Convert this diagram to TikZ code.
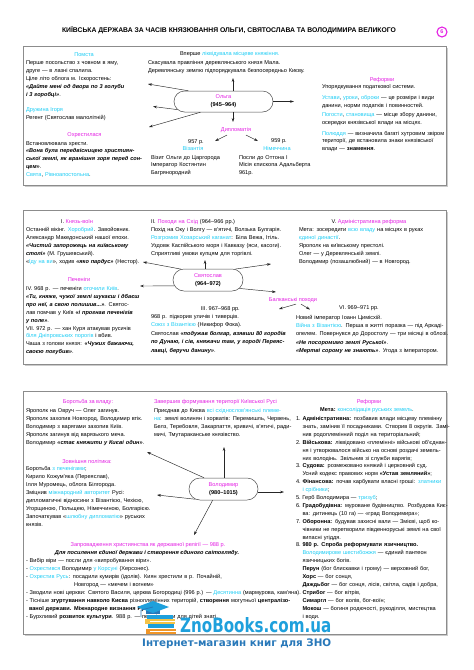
\documentclass[tikz,border=0pt]{standalone}
\usepackage{fontspec}
\usepackage{graphicx}
\setmainfont{Liberation Sans}
\newfontfamily\logofont{DejaVu Sans}
\usetikzlibrary{arrows.meta,shapes.misc}
\definecolor{mg}{RGB}{228,32,228}
\definecolor{cy}{RGB}{30,205,245}
\definecolor{zb}{RGB}{30,160,220}
\definecolor{zbd}{RGB}{40,120,185}
\definecolor{bkor}{RGB}{240,150,40}
\definecolor{bkye}{RGB}{245,195,70}
\newcommand{\mgx}[1]{\textcolor{mg}{#1}}
\newcommand{\cyx}[1]{\textcolor{cy}{#1}}
\newcommand{\bix}[1]{\textbf{\textit{#1}}}
\newcommand{\jl}[2]{\makebox[#1][s]{#2}}
\newlength{\myind}\setlength{\myind}{6.5pt}
\newlength{\reflw}\setlength{\reflw}{143pt}
\newcommand{\Nj}[2]{\makebox[\myind][l]{#1}\makebox[\dimexpr\reflw-\myind\relax][s]{#2}}
\newcommand{\Nl}[2]{\makebox[\myind][l]{#1}#2}
\newcommand{\Lj}[1]{\hspace*{\myind}\makebox[\dimexpr\reflw-\myind\relax][s]{#1}}
\newcommand{\Ll}[1]{\hspace*{\myind}#1}
\newcommand{\fsz}{\fontsize{5.6}{8}\selectfont}
\begin{document}
\begin{tikzpicture}[x=1pt,y=-1pt,
 arr/.style={-{Stealth[length=4pt,width=2.6pt]}, line width=0.45pt, draw=black!85},
 tx/.style={anchor=base west, inner sep=0pt, outer sep=0pt, font=\fsz, align=left},
 blk/.style={tx, text width=320pt},
 txc/.style={anchor=base, inner sep=0pt, outer sep=0pt, font=\fsz},
 hub/.style={rounded rectangle, draw=black!70, line width=0.5pt, inner sep=1pt, font=\fsz, align=center, fill=white},
 frame/.style={draw=black!45, line width=0.8pt},
 shadow/.style={draw=black!20, line width=1pt}]
\useasboundingbox (0,0) rectangle (474,670);
\fill[white] (0,0) rectangle (474,670);

% ---------- title ----------
\node[anchor=base, inner sep=0pt, font=\fontsize{6.8}{8}\selectfont\bfseries] (title) at (229,32) {КИЇВСЬКА ДЕРЖАВА ЗА ЧАСІВ КНЯЗЮВАННЯ ОЛЬГИ, СВЯТОСЛАВА ТА ВОЛОДИМИРА ВЕЛИКОГО};
\node[circle, draw=mg, line width=1.1pt, minimum size=10pt, inner sep=0pt, font=\fontsize{5.5}{6}\selectfont\bfseries, text=mg] (num) at (442,32) {6};

% ---------- frames ----------
\draw[shadow] (24.5,186.5) -- (447.5,186.5) -- (447.5,47.5);
\draw[frame] (23,46) rectangle (446,185);
\draw[shadow] (24.5,365.5) -- (447.5,365.5) -- (447.5,211.5);
\draw[frame] (23,210) rectangle (446,364);
\draw[shadow] (24.5,635.5) -- (447.5,635.5) -- (447.5,392.5);
\draw[frame] (23,391) rectangle (446,634);

% ---------- section 1: Olga ----------
\node[txc] (pomsta) at (84,56) {\cyx{Помста}};
\node[blk, font=\fontsize{5.6}{8.2}\selectfont] (p1) at (26,64) {Перше посольство з човном в яму,\\друге — в лазні спалила.\\Ціле літо облога м. Іскоростень:\\\bix{«Дайте мені од двора по 3 голуби}\\\bix{і 3 горобці»}.};
\node[tx] (igor) at (26,111) {\cyx{Дружина Ігоря}};
\node[tx] (regent) at (26,119) {Регент (Святослав малолітній)};
\node[txc] (ohr) at (84.5,136) {\mgx{Охрестилася}};
\node[blk, font=\fontsize{5.6}{7.75}\selectfont] (p2) at (26,145) {Встановлювала хрести.\\\jl{117pt}{\bix{«Вона була передвісницею християн-}}\\\jl{117pt}{\bix{ської землі, як вранішня зоря перед сон-}}\\\bix{цем»}.\\\cyx{Свята}, \cyx{Рівноапостольна}.};

\node[tx] (vpershe) at (180,55.5) {Вперше \cyx{ліквідувала місцеве княжіння.}};
\node[blk, font=\fontsize{5.6}{8.6}\selectfont] (mal) at (148,64) {Скасувала правління деревлянського князя Мала.\\Деревлянську землю підпорядкувала безпосередньо Києву.};

\node[hub, minimum width=101pt, minimum height=21pt] (olga) at (223.5,101.5) {\mgx{Ольга}\\\textbf{(945–964)}};

\node[txc] (dipl) at (236,131) {\mgx{Дипломатія}};
\node[txc] (y957) at (196,143) {957 р.};
\node[txc] (viz) at (193,150.5) {\cyx{Візантія}};
\node[blk, font=\fontsize{5.6}{7.6}\selectfont] (vizt) at (151,159) {Візит Ольги до Царгорода\\Імператор Костянтин\\Багрянородний};
\node[txc] (y959) at (279,142) {959 р.};
\node[txc] (nim) at (277,150.5) {\cyx{Німеччина}};
\node[blk, font=\fontsize{5.6}{7.6}\selectfont] (nimt) at (239,159) {Посли до Оттона І\\Місія єпископа Адальберта\\961р.};

\node[txc] (ref1) at (382,81) {\mgx{Реформи}};
\node[tx] (r1a) at (322,88.5) {Упорядкування податкової системи.};
\node[blk] (r1b) at (322,99) {\jl{120pt}{\cyx{Устави}, \cyx{уроки}, \cyx{оброки} — це розміри і види}\\данини, норми податків і повинностей.};
\node[blk] (r1c) at (322,116.5) {\jl{120pt}{\cyx{Погости}, \cyx{становища} — місце збору данини,}\\осередки князівської влади на місцях.};
\node[blk, font=\fontsize{5.6}{7.6}\selectfont] (r1d) at (322,135) {\jl{120pt}{\cyx{Полюддя} — визначила багаті хутровим звіром}\\\jl{120pt}{території, де встановила знаки князівської}\\влади — \textbf{знамення}.};

\coordinate (oU) at (233,78);
\coordinate (oUL) at (148,84);
\coordinate (oL) at (153,106.5);
\coordinate (oDL) at (149,127);
\coordinate (oD) at (233,122);
\coordinate (oR) at (294,101.5);
\draw[arr] (olga.north -| oU) -- (oU);
\draw[arr] (olga.163) -- (oUL);
\draw[arr] (olga.190) -- (oL);
\draw[arr] (olga.205) -- (oDL);
\draw[arr] (olga.south -| oD) -- (oD);
\draw[arr] (olga.east) -- (oR);
\coordinate (dL) at (215,141);
\coordinate (dR) at (258,141);
\draw[arr] ([xshift=-9pt,yshift=-3pt]dipl.south) -- (dL);
\draw[arr] ([xshift=10pt,yshift=-3pt]dipl.south) -- (dR);

% ---------- section 2: Sviatoslav ----------
\node[txc] (kv) at (77,223) {I. \mgx{Князь-воїн}};
\node[blk, font=\fontsize{5.6}{8.1}\selectfont] (kvt) at (26,231) {Останній вікінг. \cyx{Хоробрий}. Завойовник.\\Александр Македонський нашої епохи.\\\jl{117pt}{\bix{«Чистий запорожець на київському}}\\\bix{столі»} (М. Грушевський).\\«\cyx{Іду на ви}», ходив \bix{«яко пардус»} (Нестор).};
\node[txc] (pech) at (79,281.5) {\mgx{Печеніги}};
\node[blk, font=\fontsize{5.6}{7.9}\selectfont] (pecht) at (26,290.5) {IV. 968 р. — печеніги \cyx{оточили Київ}.\\\jl{117pt}{\bix{«Ти, княже, чужої землі шукаєш і дбаєш}}\\\jl{117pt}{\bix{про неї, а свою полишив...»}. Святос-}\\\jl{117pt}{лав помчав у Київ \bix{«і прогнав печенігів}}\\\bix{у поле»}.\\\jl{117pt}{VII. 972 р. — хан Куря атакував русичів}\\\jl{117pt}{\cyx{біля Дніпровських порогів} і вбив.}\\\jl{117pt}{Чаша з голови князя: \bix{«Чужих бажаючи,}}\\\bix{своєю погубив»}.};

\node[blk, font=\fontsize{5.6}{8.1}\selectfont] (east) at (151,223) {II. \mgx{Походи на Схід} (964–966 рр.)\\Похід на Оку і Волгу — в'ятичі, Волзька Булгарія.\\\cyx{Розгромив Хозарський каганат}: Біла Вежа, Ітіль.\\Уздовж Каспійського моря і Кавказу (яси, касоги).\\Сприятливі умови купцям для торгівлі.};

\node[hub, minimum width=72pt, minimum height=22pt] (sv) at (208,280) {\mgx{Святослав}\\\textbf{(964–972)}};

\node[txc] (adm) at (369,223) {V. \mgx{Адміністративна реформа}};
\node[blk, font=\fontsize{5.6}{8.1}\selectfont] (admt) at (299,231) {Мета: зосередити \cyx{всю владу} на місцях в руках\\\cyx{єдиної династії}.\\Ярополк на київському престолі.\\Олег — у Деревлянській землі.\\Володимир (позашлюбний) — в Новгород.};

\node[txc] (balk) at (293,301) {\mgx{Балканські походи}};

\node[anchor=base east, inner sep=0pt, font=\fsz] (iii) at (240,310) {III. 967–968 рр.};
\node[blk, font=\fontsize{5.6}{8.4}\selectfont] (iiit) at (151,318.5) {968 р. підкорив уличів і тиверців.\\\cyx{Союз з Візантією} (Никифор Фока).\\Святослав \bix{«подужав болгар, взявши 80 городів}\\\bix{по Дунаю, і сів, княжачи там, у городі Переяс-}\\\bix{лавці, беручи данину»}.};

\node[txc] (vi) at (359,309) {VI. 969–971 рр.};
\node[blk, font=\fontsize{5.6}{8.4}\selectfont] (vit) at (296,319) {Новий імператор Іоанн Цимісхій.\\\jl{140pt}{\cyx{Війна з Візантією}. Перша в житті поразка — під Аркаді-}\\\jl{140pt}{опелем. Повернувся до Доростолу — три місяці в облозі.}\\\bix{«Не посоромимо землі Руської»}.\\\bix{«Мертві сорому не знають»}. Угода з імператором.};

\coordinate (sU) at (205,260);
\coordinate (sUL) at (143,262);
\coordinate (sL) at (140,286);
\coordinate (sUR) at (271,264);
\coordinate (sDR) at (276,292);
\draw[arr] (sv.north -| sU) -- (sU);
\draw[arr] (sv.158) -- (sUL);
\draw[arr] (sv.190) -- (sL);
\draw[arr] (sv.22) -- (sUR);
\draw[arr] (sv.-15) -- (sDR);
\coordinate (bL) at (279,309);
\coordinate (bR) at (310,309.5);
\draw[arr] ([xshift=3pt,yshift=-2pt]balk.south) -- (bL);
\draw[arr] ([xshift=8pt,yshift=-2pt]balk.south) -- (bR);

% ---------- section 3: Volodymyr ----------
\node[txc] (vlada) at (88,403) {\mgx{Боротьба за владу:}};
\node[blk] (vladat) at (26,412) {Ярополк на Овруч — Олег загинув.\\Ярополк захопив Новгород, Володимир втік.\\Володимир з варягами захопив Київ.\\Ярополк загинув від варязького меча.\\Володимир \bix{«стає княжити у Києві один»}.};
\node[txc] (zovn) at (87,463) {\mgx{Зовнішня політика:}};
\node[blk] (zovnt) at (26,470.5) {Боротьба \cyx{з печенігами};\\Кирило Кожум'яка (Переяслав),\\Ілля Муромець, облога Білгорода.\\Зміцнив \cyx{міжнародний авторитет} Русі:\\\jl{117pt}{дипломатичні відносини з Візантією, Чехією,}\\\jl{117pt}{Угорщиною, Польщею, Німеччиною, Болгарією.}\\\jl{117pt}{Започаткував «\cyx{шлюбну дипломатію}» руських}\\князів.};

\node[tx] (zav) at (154,403) {\mgx{Завершив формування території Київської Русі}};
\node[blk] (zavt) at (154,412) {\jl{139pt}{Приєднав до Києва \cyx{всі східнослов'янські племе-}}\\\jl{139pt}{\cyx{на}: землі волинян і хорватів: Перемишль, Червень,}\\\jl{139pt}{Белз, Теребовля, Закарпаття, кривичі, в'ятичі, ради-}\\мичі, Тмутараканське князівство.};

\node[hub, minimum width=71pt, minimum height=22pt] (vol) at (223.5,489) {\mgx{Володимир}\\\textbf{(980–1015)}};

\node[txc] (ref3) at (369,403) {\mgx{Реформи}};
\node[txc] (meta) at (367,411) {\textbf{Мета:} \cyx{консолідація руських земель}.};
\node[blk, font=\fontsize{5.6}{7.9}\selectfont] (reft) at (296,420.5) {\Nj{1.}{\textbf{Адміністративна:} позбавив влади місцеву племінну}\\
\Lj{знать, замінив її посадниками. Створив 8 округів. Замі-}\\
\Ll{нив родоплемінний поділ на територіальний;}\\
\Nj{2.}{\textbf{Військова:} ліквідовано «племінні» військові об'єднан-}\\
\Lj{ня і утворювалося військо на основі роздачі земель-}\\
\Ll{них володінь. Звільнив зі служби варягів;}\\
\Nl{3.}{\textbf{Судова:} розмежовано княжий і церковний суд.}\\
\Ll{Усний кодекс правових норм \textbf{«Устав земляний»};}\\
\Nj{4.}{\textbf{Фінансова:} почав карбувати власні гроші: \cyx{златники}}\\
\Ll{\cyx{і срібники};}\\
\Nl{5.}{Герб Володимира — \cyx{тризуб};}\\
\Nj{6.}{\textbf{Градобудівна:} муроване будівництво. Розбудова Киє-}\\
\Ll{ва: дитинець (10 га) — «град Володимира»;}\\
\Nj{7.}{\textbf{Оборонна:} будував захисні вали — Змієві, щоб ко-}\\
\Lj{чівники не перетворили південноруські землі на свої}\\
\Ll{випасні угіддя.}\\
\Nl{8.}{\textbf{980 р. Спроба реформувати язичництво.}}\\
\Lj{\cyx{Володимирове шестибожжя} — єдиний пантеон}\\
\Ll{язичницьких богів.}\\
\Ll{\textbf{Перун} (бог блискавки і грому) — верховний бог,}\\
\Ll{\textbf{Хорс} — бог сонця,}\\
\Ll{\textbf{Даждьбог} — бог сонця, лісів, світла, садів і добра,}\\
\Ll{\textbf{Стрибог} — бог вітрів,}\\
\Ll{\textbf{Симаргл} — бог волів, бог-воїн;}\\
\Lj{\textbf{Мокош} — богиня родючості, рукоділля, мистецтва}\\
\Ll{і води.}};

\node[txc] (chr) at (148,546) {\mgx{Запровадження християнства як державної релігії — 988 р.}};
\node[txc] (chr2) at (147,554) {\bix{Для посилення єдиної держави і створення єдиного світогляду.}};
\node[blk] (chrt) at (26,562) {- Вибір віри — посли для «випробування віри».\\
- \cyx{Охрестився} Володимир \cyx{у Корсуні} (Херсонес).\\
- \cyx{Охрестив Русь}: посадили кумирів (ідолів). Киян хрестили в р. Почайній,\\
\hspace*{48pt}Новгород — «мечем і вогнем»\\
- Зводили нові церкви: Святого Василя, церква Богородиці (996 р.) — \cyx{Десятинна} (мармурова, кам'яна).\\
- Тісніше \textbf{згуртування навколо Києва} різноплемінних територій, \textbf{створення} могутньої \textbf{централізо-}\\
\hspace*{3pt}\textbf{ваної держави. Міжнародне визнання Русі.}\\
- Бурхливий \textbf{розвиток культури}. 988 р. — перші школи для дітей знаті.};

\coordinate (vU) at (224,447);
\coordinate (vUL) at (147,452);
\coordinate (vL) at (157,495);
\coordinate (vDL) at (194,535);
\coordinate (vR) at (284,492);
\draw[arr] (vol.north -| vU) -- (vU);
\draw[arr] (vol.150) -- (vUL);
\draw[arr] (vol.200) -- (vL);
\draw[arr] (vol.226) -- (vDL);
\draw[arr] (vol.east |- vR) -- (vR);

% ---------- logo ----------
\fill[bkor] (146,629) rectangle (176,634);
\fill[zb] (148,624) rectangle (174,628);
\fill[bkye] (145,619) rectangle (175,623.5);
\fill[zb] (147,614.5) rectangle (173,618.5);
\fill[white] (150,630.5) rectangle (176,631.5);
\fill[white] (150,620.5) rectangle (175,621.5);
\fill[zbd] (146,609) rectangle (160,614);
\fill[zb] (137,607) -- (153,601) -- (169,607) -- (153,613) -- cycle;
\draw[zbd, line width=0.8pt] (153,607) -- (141,610) -- (141,617);
\node[anchor=south west, inner sep=0pt, text=zb] (zno) at (180,633) {\resizebox{151pt}{15pt}{\logofont\bfseries ZnoBooks.com.ua}};
\node[anchor=base west, inner sep=0pt, text=zbd] (shop) at (142,646) {\resizebox{189pt}{!}{\logofont\bfseries Інтернет-магазин книг для ЗНО}};
\end{tikzpicture}
\end{document}
